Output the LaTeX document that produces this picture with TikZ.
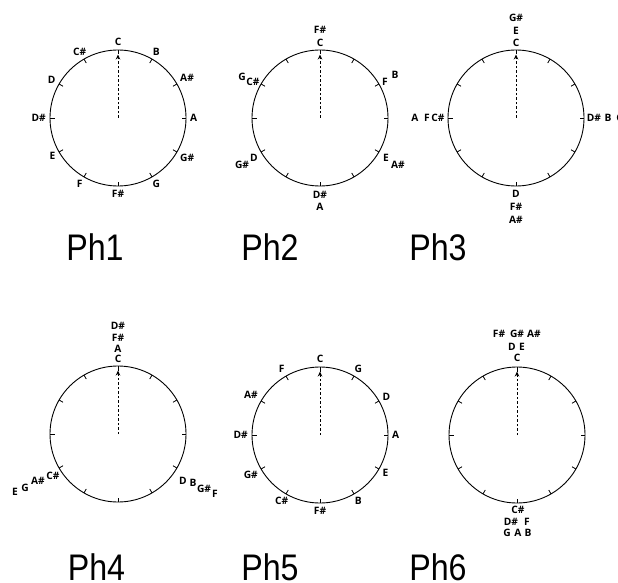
\documentclass[tikz,border=0pt]{standalone}
\usepackage{fontspec}
\usepackage{graphicx}
\setmainfont{Liberation Sans}
\newfontfamily\notefont{Open Sans}
\usetikzlibrary{calc,arrows.meta}
\tikzset{
  ring/.style={line width=0.9pt},
  tickmark/.style={line width=0.8pt},
  hand/.style={line width=0.8pt, dash pattern=on 2.5pt off 2pt, -{Stealth[length=5pt,width=4.5pt]}},
  note/.style={font=\notefont\bfseries\fontsize{10.2}{11}\selectfont, inner sep=0pt},
  title/.style={font=\fontsize{37}{40}\selectfont, inner sep=0pt, anchor=base},
}
\newcommand\dialface[3]{%
  \coordinate (#1) at (#2,#3);
  \draw[ring] (#1) circle (68pt);
  \foreach \k in {0,...,11}{\draw[tickmark] ($(#1)+(\k*30-90:68)$) -- ($(#1)+(\k*30-90:63.5)$);}
  \coordinate (#1-tip) at ($(#1)+(0,-63.5)$);
  \draw[hand] (#1) -- (#1-tip);
}
\begin{document}
\begin{tikzpicture}[x=1pt,y=-1pt]
\useasboundingbox (0,0) rectangle (618,583);
% dials
\dialface{d1}{118}{118}
\dialface{d2}{320}{118}
\dialface{d3}{516}{118}
\dialface{d4}{118}{434}
\dialface{d5}{320}{435}
\dialface{d6}{517}{435}
% Ph1 labels
\foreach \k/\t in {0/C,1/B,2/A\#,3/A,4/G\#,5/G,6/F\#,7/F,8/E,9/D\#,10/D,11/C\#}{
  \pgfmathtruncatemacro\an{mod(270-\k*30+720,360)}
  \node[note, anchor=\an] (p1-\k) at ($(d1)+(\k*30-90:72)$) {\t};
}
% Ph5 labels
\foreach \k/\t in {0/C,1/G,2/D,3/A,4/E,5/B,6/F\#,7/C\#,8/G\#,9/D\#,10/A\#,11/F}{
  \pgfmathtruncatemacro\an{mod(270-\k*30+720,360)}
  \node[note, anchor=\an] (p5-\k) at ($(d5)+(\k*30-90:72)$) {\t};
}
% Ph2 labels
\node[note] (p2-c)  at (320,43) {C};
\node[note] (p2-fs) at (320,30) {F\#};
\node[note] (p2-f)  at (385,82) {F};
\node[note] (p2-b)  at (395,75) {B};
\node[note] (p2-e)  at (386,158) {E};
\node[note] (p2-as) at (398,165) {A\#};
\node[note] (p2-ds) at (320,195) {D\#};
\node[note] (p2-a)  at (320,207) {A};
\node[note] (p2-d)  at (254,158) {D};
\node[note] (p2-gs) at (242,165) {G\#};
\node[note] (p2-cs) at (253,82) {C\#};
\node[note] (p2-g)  at (242,77) {G};
% Ph3 labels
\node[note] (p3-c)  at (516,43) {C};
\node[note] (p3-e)  at (516,31) {E};
\node[note] (p3-gs) at (516,18) {G\#};
\node[note] (p3-ds) at (594,118) {D\#};
\node[note] (p3-b)  at (608,118) {B};
\node[note] (p3-g)  at (620,118) {G};
\node[note] (p3-a)  at (415,118) {A};
\node[note] (p3-f)  at (427,118) {F};
\node[note] (p3-cs) at (438,118) {C\#};
\node[note] (p3-d)  at (516,194) {D};
\node[note] (p3-fs) at (516,207) {F\#};
\node[note] (p3-as) at (516,220) {A\#};
% Ph4 labels
\node[note] (p4-c)  at (118,359) {C};
\node[note] (p4-a)  at (118,349) {A};
\node[note] (p4-fs) at (118,338) {F\#};
\node[note] (p4-ds) at (118,326) {D\#};
\node[note] (p4-d)  at (183,481) {D};
\node[note] (p4-b)  at (193,483) {B};
\node[note] (p4-gs) at (204,489) {G\#};
\node[note] (p4-f)  at (215,494) {F};
\node[note] (p4-cs) at (53,476) {C\#};
\node[note] (p4-as) at (38,481) {A\#};
\node[note] (p4-g)  at (25,488) {G};
\node[note] (p4-e)  at (15,492) {E};
% Ph6 labels
\node[note] (p6-c)  at (517,358) {C};
\node[note] (p6-d)  at (512,347) {D};
\node[note] (p6-e)  at (522,347) {E};
\node[note] (p6-fs) at (499,334) {F\#};
\node[note] (p6-gs) at (517,334) {G\#};
\node[note] (p6-as) at (534,334) {A\#};
\node[note] (p6-cs) at (518,510) {C\#};
\node[note] (p6-ds) at (511,522) {D\#};
\node[note] (p6-f)  at (527,522) {F};
\node[note] (p6-g)  at (507,533) {G};
\node[note] (p6-a)  at (518,533) {A};
\node[note] (p6-b)  at (528,533) {B};
% titles
\node[title] (t1) at (95,260) {\scalebox{0.87}[1]{Ph1}};
\node[title] (t2) at (270,260) {\scalebox{0.87}[1]{Ph2}};
\node[title] (t3) at (438,260) {\scalebox{0.87}[1]{Ph3}};
\node[title] (t4) at (96.5,580.5) {\scalebox{0.87}[1]{Ph4}};
\node[title] (t5) at (270,580.5) {\scalebox{0.87}[1]{Ph5}};
\node[title] (t6) at (438,580.5) {\scalebox{0.87}[1]{Ph6}};
\end{tikzpicture}
\end{document}
